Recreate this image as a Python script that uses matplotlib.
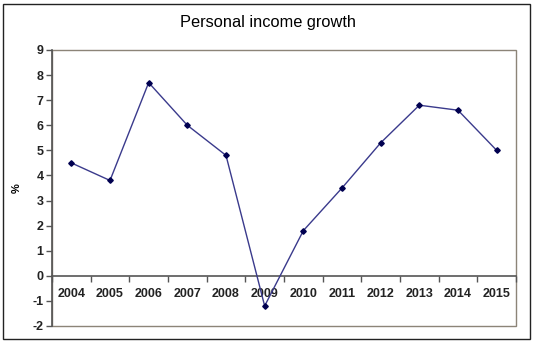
import matplotlib
matplotlib.use("Agg")
import matplotlib.pyplot as plt
from matplotlib.patches import Rectangle
import numpy as np

years = ["2004", "2005", "2006", "2007", "2008", "2009",
         "2010", "2011", "2012", "2013", "2014", "2015"]
growth = [4.5, 3.8, 7.7, 6.0, 4.8, -1.2, 1.8, 3.5, 5.3, 6.8, 6.6, 5.0]

plt.rcParams['font.family'] = ['Liberation Sans', 'DejaVu Sans']

fig = plt.figure(figsize=(5.33, 3.43), dpi=100)
ax = fig.add_axes([52 / 533, 17 / 343, 464 / 533, 276 / 343])

x = np.arange(len(years))
ax.plot(x, growth, color="#3a3a8c", lw=1.0, marker="D", ms=2.8,
        mfc="#000050", mec="#000050", zorder=3)

ax.set_xlim(-0.5, len(years) - 0.5)
ax.set_ylim(-2, 9)
ax.set_yticks(range(-2, 10))
ax.set_yticklabels([str(v) for v in range(-2, 10)], fontsize=9, fontweight="bold", color="#222222")
ax.tick_params(axis="y", direction="out", length=4, width=1, color="#555555", pad=2)

# category axis crossing at zero: ticks at boundaries, labels at centres
ax.spines["bottom"].set_position(("data", 0))
ax.set_xticks(np.arange(-0.5, len(years), 1.0))
ax.set_xticklabels([])
ax.tick_params(axis="x", which="major", direction="out", length=4, width=1, color="#555555")
ax.set_xticks(x, minor=True)
ax.set_xticklabels(years, minor=True, fontsize=9, fontweight="bold", color="#222222")
ax.tick_params(axis="x", which="minor", length=0, pad=9)

for s in ["top", "right"]:
    ax.spines[s].set_visible(False)
ax.spines["bottom"].set_color("#555555")
ax.spines["left"].set_color("#555555")
ax.spines["bottom"].set_linewidth(1.2)
ax.spines["left"].set_linewidth(1.2)

# plot area border
ax.add_patch(Rectangle((0, 0), 1, 1, transform=ax.transAxes, fill=False,
                       ec="#8c8478", lw=1.0, clip_on=False, zorder=1))

ax.set_ylabel("%", fontsize=8, fontweight="bold", labelpad=8)
fig.text(268 / 533, 1 - 22 / 343, "Personal income growth", ha="center", va="center", fontsize=11.75)

# chart border
fig.patches.append(Rectangle((3 / 533, 4 / 343), 527 / 533, 335 / 343, transform=fig.transFigure,
                             fill=False, ec="#222222", lw=1.0))

fig.savefig("out.png", dpi=100)
